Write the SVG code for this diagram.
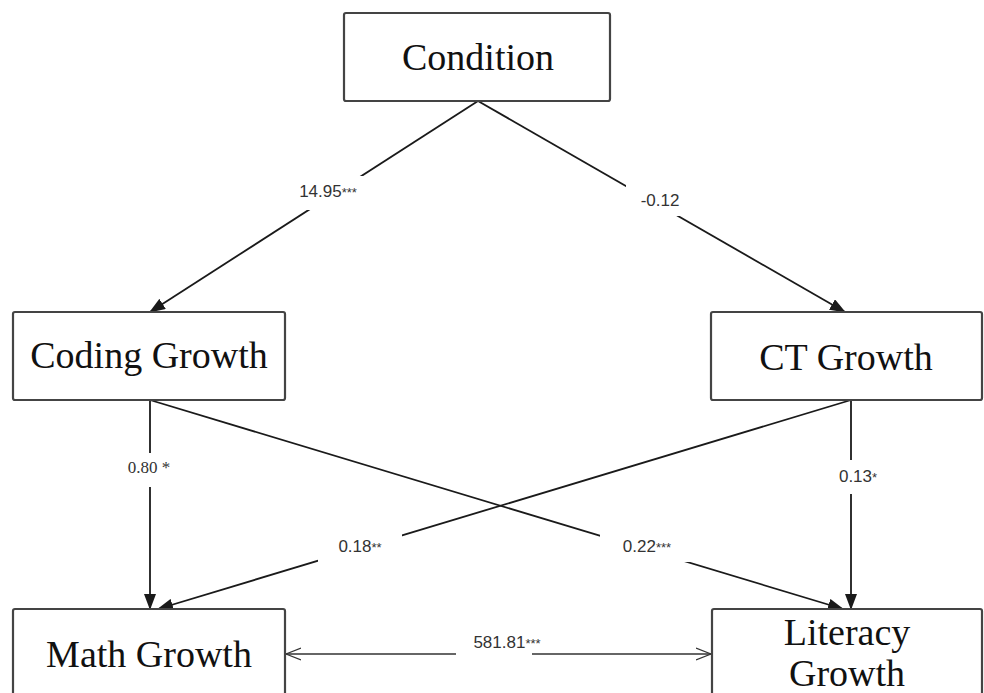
<svg xmlns="http://www.w3.org/2000/svg" width="984" height="693" viewBox="0 0 984 693">
<defs>
<marker id="ah" markerUnits="userSpaceOnUse" markerWidth="16" markerHeight="12" viewBox="0 0 16 12" refX="15" refY="6" orient="auto">
<path d="M0,0 L16,6 L0,12 Z" fill="#1a1a1a"/>
</marker>
<marker id="open" markerUnits="userSpaceOnUse" markerWidth="16" markerHeight="14" viewBox="0 0 16 14" refX="15" refY="7" orient="auto-start-reverse">
<path d="M0,1 L15,7 L0,13" fill="none" stroke="#333" stroke-width="1.2"/>
</marker>
</defs>
<style>
.box{fill:#fff;stroke:#444;stroke-width:2.2}
.nt{font-family:"Liberation Serif","Times New Roman",serif;font-size:38px;fill:#111;text-anchor:middle}
.ln{stroke:#1a1a1a;stroke-width:1.8;fill:none}
.lb{font-family:"Liberation Sans",Arial,sans-serif;font-size:17px;fill:#333;text-anchor:middle}
.st{font-size:13px}
.bg{fill:#fff}
</style>
<rect width="984" height="693" fill="#fff"/>
<g id="connectors">
<line class="ln" x1="478" y1="101" x2="150" y2="312" marker-end="url(#ah)"/>
<line class="ln" x1="478" y1="101" x2="845" y2="312" marker-end="url(#ah)"/>
<line class="ln" x1="150" y1="400" x2="150" y2="609" marker-end="url(#ah)"/>
<line class="ln" x1="150" y1="400" x2="843" y2="609" marker-end="url(#ah)"/>
<line class="ln" x1="851" y1="400" x2="158" y2="609" marker-end="url(#ah)"/>
<line class="ln" x1="851" y1="400" x2="851" y2="609" marker-end="url(#ah)"/>
<line stroke="#333" stroke-width="1.3" x1="286" y1="654" x2="711" y2="654" marker-start="url(#open)" marker-end="url(#open)"/>
</g>
<g id="labels">
<rect class="bg" x="284" y="176" width="88" height="34"/>
<text class="lb" x="328" y="197">14.95<tspan class="st">***</tspan></text>
<rect class="bg" x="626" y="184" width="68" height="32"/>
<text class="lb" x="660" y="206">-0.12</text>
<rect class="bg" x="114" y="453" width="70" height="34"/>
<text class="lb" x="149" y="473" style="font-family:'Liberation Serif',serif">0.80 *</text>
<rect class="bg" x="824" y="460" width="66" height="34"/>
<text class="lb" x="858" y="482">0.13<tspan class="st">*</tspan></text>
<rect class="bg" x="318" y="530" width="84" height="32"/>
<text class="lb" x="360" y="552">0.18<tspan class="st">**</tspan></text>
<rect class="bg" x="600" y="530" width="94" height="32"/>
<text class="lb" x="647" y="552">0.22<tspan class="st">***</tspan></text>
<rect class="bg" x="456" y="634" width="76" height="26"/>
<text class="lb" x="507" y="648">581.81<tspan class="st">***</tspan></text>
</g>
<g id="condition">
<rect class="box" x="344" y="13" width="266" height="88" rx="2"/>
<text class="nt" x="478" y="70">Condition</text>
</g>
<g id="coding">
<rect class="box" x="13" y="312" width="272" height="88" rx="2"/>
<text class="nt" x="149" y="368">Coding Growth</text>
</g>
<g id="ct">
<rect class="box" x="711" y="312" width="271" height="88" rx="2"/>
<text class="nt" x="846" y="370">CT Growth</text>
</g>
<g id="math">
<rect class="box" x="13" y="609" width="272" height="100" rx="2"/>
<text class="nt" x="149" y="667">Math Growth</text>
</g>
<g id="literacy">
<rect class="box" x="712" y="609" width="270" height="100" rx="2"/>
<text class="nt" x="847" y="645">Literacy</text>
<text class="nt" x="847" y="686">Growth</text>
</g>
</svg>
